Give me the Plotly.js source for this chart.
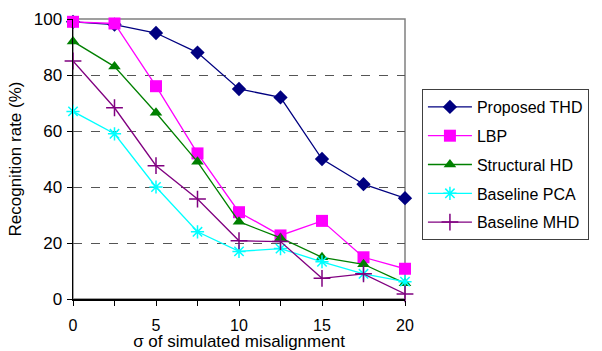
<!DOCTYPE html>
<html>
<head>
<meta charset="utf-8">
<script src="https://cdn.plot.ly/plotly-3.0.1.min.js"></script>
<style>html,body{margin:0;padding:0;background:#fff;}#chart{width:602px;height:351px;}</style>
</head>
<body>
<div id="chart"></div>
<script>
const sigma = [0, 2.5, 5, 7.5, 10, 12.5, 15, 17.5, 20];
const xTickVals = [0, 2.5, 5, 7.5, 10, 12.5, 15, 17.5, 20];
const xTickText = ["0", "", "5", "", "10", "", "15", "", "20"];
const yTickVals = [0, 20, 40, 60, 80, 100];
const seriesNames = ["Proposed THD", "LBP", "Structural HD", "Baseline PCA", "Baseline MHD"];
const proposedTHD = [99, 98, 95, 88, 75, 72, 50, 41, 36];
const lbp = [99, 98.4, 76, 52, 31, 22.7, 27.9, 14.9, 10.8];
const structuralHD = [92, 83, 66.5, 49, 27.6, 21.8, 14.9, 12.4, 5.6];
const baselinePCA = [67, 59, 40, 24, 17, 18, 13.3, 9, 6.2];
const baselineMHD = [85, 68.3, 47.6, 35.7, 20.8, 20.5, 7.4, 9, 1.8];

const seriesValues = [proposedTHD, lbp, structuralHD, baselinePCA, baselineMHD];
const colors = ["#000080", "#FF00FF", "#008000", "#00FFFF", "#800080"];
const symbols = ["diamond", "square", "triangle-up", "asterisk-open", "cross-thin-open"];
const sizes = [11, 12, 11, 11, 12];

const traces = seriesNames.map((name, i) => ({
  x: sigma,
  y: seriesValues[i],
  name: name,
  legendgroup: "g" + i,
  type: "scatter",
  mode: "lines+markers",
  line: {color: colors[i], width: 1.3},
  marker: {symbol: symbols[i], size: sizes[i], color: colors[i], line: {color: colors[i], width: (i >= 3 ? 1.5 : 0)}},
  cliponaxis: false
}));

const fam = "Liberation Sans, Arial, sans-serif";
const font = {family: fam, size: 17, color: "#000"};
const tickFont = {family: fam, size: 16, color: "#000"};

const layout = {
  width: 602, height: 351,
  margin: {l: 73, r: 197, t: 19, b: 52, pad: 0},
  paper_bgcolor: "#fff", plot_bgcolor: "#fff",
  font: font,
  showlegend: true,
  legend: {
    x: 1.051, y: 0.75, xanchor: "left", yanchor: "top",
    bgcolor: "#fff", bordercolor: "#404040", borderwidth: 1,
    font: {family: fam, size: 16, color: "#000"},
    tracegroupgap: 5,
    itemwidth: 44
  },
  xaxis: {
    range: [0, 20],
    tickmode: "array", tickvals: xTickVals, ticktext: xTickText,
    ticks: "outside", ticklen: 5, tickcolor: "#000", tickwidth: 1,
    tickfont: tickFont,
    ticklabelstandoff: 6,
    showline: true, linecolor: "#000", linewidth: 1.5,
    showgrid: false, zeroline: false,
    title: {text: "σ of simulated misalignment", font: font, standoff: 5}
  },
  yaxis: {
    range: [0, 100],
    tickmode: "array", tickvals: yTickVals,
    ticks: "outside", ticklen: 5, tickcolor: "#000", tickwidth: 1,
    tickfont: font,
    ticklabelstandoff: 1,
    showline: true, linecolor: "#000", linewidth: 1.5,
    showgrid: true, gridcolor: "#555", griddash: "dash", gridwidth: 1,
    zeroline: false,
    title: {text: "Recognition rate (%)", font: font, standoff: 8}
  },
  shapes: [{
    type: "rect", xref: "paper", yref: "paper", x0: 0, x1: 1, y0: 0, y1: 1,
    line: {color: "#808080", width: 1.5}, layer: "below"
  }]
};

Plotly.newPlot("chart", traces, layout, {displayModeBar: false, staticPlot: true});
</script>
</body>
</html>
